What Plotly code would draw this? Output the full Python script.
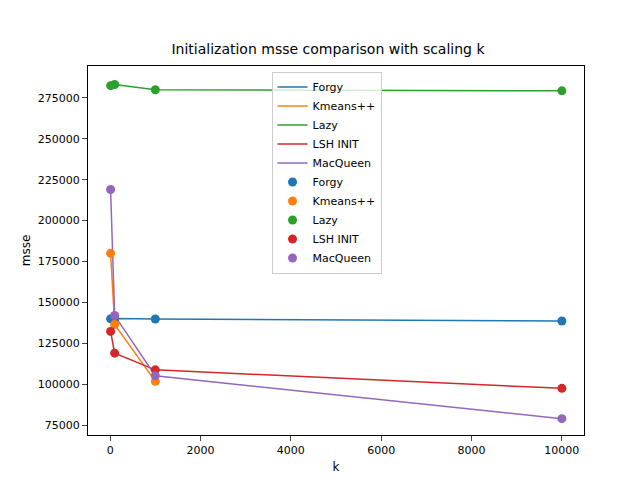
import plotly.graph_objects as go

# datos
k_vals = [10, 100, 1000, 10000]
forgy = [140000, 140200, 139900, 138700]
kmeans_k = [10, 100, 1000]
kmeans = [180000, 136600, 101800]
lazy = [282500, 283200, 280000, 279300]
lsh = [132300, 119000, 108800, 97500]
macqueen = [219000, 142000, 105200, 79000]
x_ticks = [0, 2000, 4000, 6000, 8000, 10000]
y_ticks = [75000, 100000, 125000, 150000, 175000, 200000, 225000, 250000, 275000]

colores = ['#1f77b4', '#ff7f0e', '#2ca02c', '#d62728', '#9467bd']
series = [('Forgy', k_vals, forgy), ('Kmeans++', kmeans_k, kmeans), ('Lazy', k_vals, lazy),
          ('LSH INIT', k_vals, lsh), ('MacQueen', k_vals, macqueen)]

fig = go.Figure()
for (nombre, xs, ys), c in zip(series, colores):
    fig.add_trace(go.Scatter(x=xs, y=ys, mode='lines', name=nombre, line=dict(color=c, width=1.5)))
for (nombre, xs, ys), c in zip(series, colores):
    fig.add_trace(go.Scatter(x=xs, y=ys, mode='markers', name=nombre, marker=dict(color=c, size=9)))

eje = dict(showline=True, linecolor='black', mirror=True, ticks='outside', showgrid=False,
           zeroline=False, tickfont=dict(size=11, color='black'), automargin=False)
fig.update_layout(
    width=640, height=480, plot_bgcolor='white', paper_bgcolor='white',
    font=dict(family='DejaVu Sans', color='black'),
    title=dict(text='Initialization msse comparison with scaling k', x=0.5, y=0.925,
               xanchor='center', font=dict(size=14)),
    margin=dict(l=80, r=64, t=58, b=53),
    xaxis=dict(eje, title=dict(text='k', font=dict(size=12, color='black'), standoff=6),
               range=[-490, 10490], tickvals=x_ticks, ticktext=[str(t) for t in x_ticks]),
    yaxis=dict(eje, title=dict(text='msse', font=dict(size=12, color='black'), standoff=4),
               range=[69000, 294500], tickvals=y_ticks, ticktext=[str(t) for t in y_ticks]),
    legend=dict(x=0.37, y=0.985, xanchor='left', yanchor='top', bordercolor='#cccccc',
                borderwidth=1, bgcolor='rgba(255,255,255,0.8)', font=dict(size=11),
                tracegroupgap=2),
)
fig.write_html('out.html')
